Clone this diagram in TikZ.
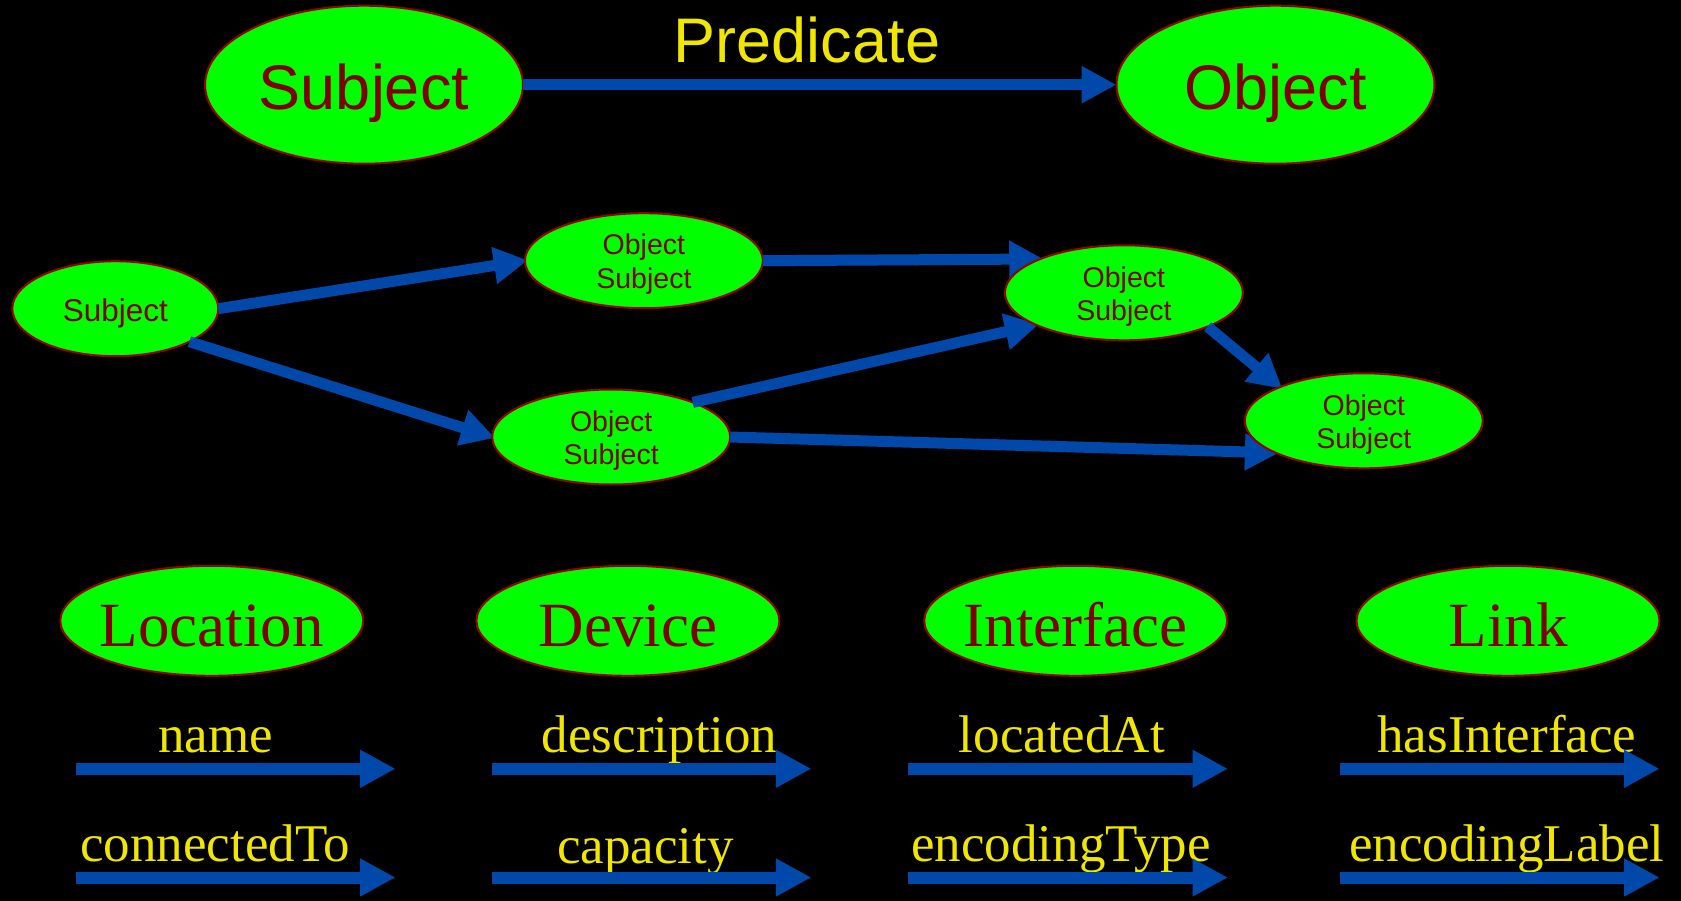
\documentclass[tikz,border=0pt]{standalone}
\usepackage{fontspec}
\setmainfont{Liberation Serif}
\setsansfont{Liberation Sans}
\usetikzlibrary{shapes.geometric,arrows.meta}
\definecolor{nodegreen}{RGB}{0,255,0}
\definecolor{maroontext}{RGB}{128,0,0}
\definecolor{outlinered}{RGB}{150,0,0}
\definecolor{arrowblue}{RGB}{0,72,170}
\definecolor{predyellow}{RGB}{240,230,0}
\pgfdeclarelayer{l0}
\pgfdeclarelayer{l1}
\pgfdeclarelayer{l2}
\pgfdeclarelayer{l3}
\pgfdeclarelayer{l4}
\pgfdeclarelayer{l5}
\pgfdeclarelayer{l6}
\pgfsetlayers{main,l0,l1,l2,l3,l4,l5,l6}
\tikzset{
  ent/.style={ellipse, draw=outlinered, line width=2pt, fill=nodegreen,
    text=maroontext, outer sep=0pt},
  bigent/.style={ent, minimum width=318pt, minimum height=158pt,
    inner xsep=-50pt, inner ysep=-10pt,
    font=\sffamily\fontsize{63pt}{63pt}\selectfont, text height=52pt, text depth=2pt},
  smallent/.style={ent, minimum width=206pt, minimum height=95pt,
    inner xsep=-20pt, inner ysep=-5pt,
    font=\sffamily\fontsize{31.5pt}{31.5pt}\selectfont, text height=30pt, text depth=4pt},
  mident/.style={ent, minimum width=238pt, minimum height=95pt,
    inner xsep=-20pt, inner ysep=-25pt, align=center,
    font=\sffamily\fontsize{28.5pt}{33.4pt}\selectfont,
    text height=57pt, text depth=1.8pt},
  classent/.style={ent, minimum width=303pt, minimum height=110pt,
    inner xsep=-30pt, inner ysep=-10pt,
    font=\rmfamily\fontsize{63pt}{63pt}\selectfont, text height=50.4pt, text depth=0pt},
  proplabel/.style={anchor=base, text=predyellow, inner sep=0pt,
    font=\rmfamily\fontsize{53pt}{53pt}\selectfont},
  predlabel/.style={anchor=base, text=predyellow, inner sep=0pt,
    font=\sffamily\fontsize{63pt}{63pt}\selectfont},
  bigarrow/.style={draw=arrowblue, fill=arrowblue, line width=11.5pt,
    -{Triangle[length=35pt,width=35pt]}},
  midarrow/.style={draw=arrowblue, fill=arrowblue, line width=11pt,
    -{Triangle[length=34pt,width=35pt]}, shorten >=-3pt},
  proparrow/.style={draw=arrowblue, fill=arrowblue, line width=12pt,
    -{Triangle[length=35.5pt,width=35.5pt]}},
}
\begin{document}
\begin{tikzpicture}[x=1pt,y=-1pt]
\useasboundingbox (0,0) rectangle (1681,901);
\fill[black] (0,0) rectangle (1681,901);

% top triple
\node[bigent] (subj) at (364,84.7) {Subject};
\node[bigent] (obj) at (1275.5,84.7) {Object};
\node[predlabel] (pred) at (807,62.7) {Predicate};
\draw[bigarrow] (subj.east) -- (obj.west);

% graph
\begin{pgfonlayer}{l0}
\node[smallent] (s0) at (115.3,308.7) {Subject};
\end{pgfonlayer}
\begin{pgfonlayer}{l2}
\node[mident] (na) at (643.9,260.7) {Object\\Subject};
\node[mident] (nb) at (611.2,437) {Object\\Subject};
\end{pgfonlayer}
\begin{pgfonlayer}{l4}
\node[mident] (nc) at (1123.9,292.8) {Object\\Subject};
\end{pgfonlayer}
\begin{pgfonlayer}{l6}
\node[mident] (nd) at (1363.8,420.8) {Object\\Subject};
\end{pgfonlayer}
\begin{pgfonlayer}{l1}
\draw[midarrow] (s0.east) -- (na.west);
\draw[midarrow] (s0.-24) -- (nb.west);
\end{pgfonlayer}
\begin{pgfonlayer}{l3}
\draw[midarrow] (na.east) -- (nc.158.5);
\draw[midarrow] (nb.23) -- (nc.200.7);
\draw[midarrow] (nb.east) -- (nd.200.7);
\end{pgfonlayer}
\begin{pgfonlayer}{l5}
\draw[midarrow] (nc.-22) -- (nd.158);
\end{pgfonlayer}

% classes
\node[classent] (loc) at (211.8,620.8) {Location};
\node[classent] (dev) at (627.9,620.8) {Device};
\node[classent] (ifc) at (1075.7,620.8) {Interface};
\node[classent] (lnk) at (1508,620.8) {Link};

% properties
\node[proplabel] (pname) at (215.5,752) {name};
\node[proplabel] (pdesc) at (659.7,752) {description};
\node[proplabel] (ploc) at (1061.9,752) {locatedAt};
\node[proplabel] (phas) at (1506.8,752) {hasInterface};
\node[proplabel] (pconn) at (215.2,861) {connectedTo};
\node[proplabel] (pcap) at (645.4,863.3) {capacity};
\node[proplabel] (penct) at (1061.1,861) {encodingType};
\node[proplabel] (pencl) at (1506.8,861) {encodingLabel};

\coordinate (a1s) at (76.1,768.8);   \coordinate (a1e) at (395.6,768.8);
\coordinate (a2s) at (491.9,768.8);  \coordinate (a2e) at (811.4,768.8);
\coordinate (a3s) at (908,768.8);    \coordinate (a3e) at (1228,768.8);
\coordinate (a4s) at (1340.2,768.8); \coordinate (a4e) at (1659.6,768.8);
\coordinate (b1s) at (76.1,877.5);   \coordinate (b1e) at (395.6,877.5);
\coordinate (b2s) at (491.9,877.5);  \coordinate (b2e) at (811.4,877.5);
\coordinate (b3s) at (908,877.5);    \coordinate (b3e) at (1228,877.5);
\coordinate (b4s) at (1340.2,877.5); \coordinate (b4e) at (1659.6,877.5);
\draw[proparrow] (a1s) -- (a1e);
\draw[proparrow] (a2s) -- (a2e);
\draw[proparrow] (a3s) -- (a3e);
\draw[proparrow] (a4s) -- (a4e);
\draw[proparrow] (b1s) -- (b1e);
\draw[proparrow] (b2s) -- (b2e);
\draw[proparrow] (b3s) -- (b3e);
\draw[proparrow] (b4s) -- (b4e);
\end{tikzpicture}
\end{document}
